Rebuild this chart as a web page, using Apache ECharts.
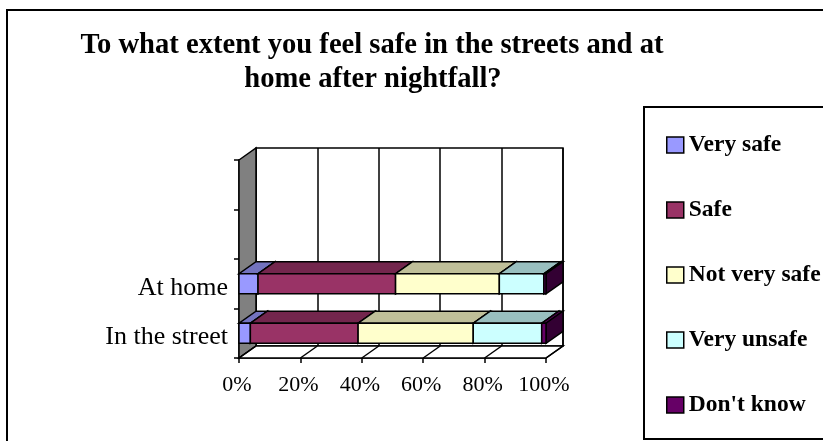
<!DOCTYPE html>
<html><head><meta charset="utf-8">
<script src="https://cdn.jsdelivr.net/npm/echarts@6/dist/echarts.min.js"></script>
<style>html,body{margin:0;padding:0;background:#fff}#c{width:823px;height:441px}</style>
</head><body><div id="c"></div>
<script>
// ---- data ----
const titleLines = ['To what extent you feel safe in the streets and at', 'home after nightfall?'];
const categories = ['In the street', 'At home', '', ''];
const seriesNames = ['Very safe', 'Safe', 'Not very safe', 'Very unsafe', "Don't know"];
const verySafe    = [3.7, 6.2];
const safe        = [35.1, 44.8];
const notVerySafe = [37.5, 33.8];
const veryUnsafe  = [22.3, 14.5];
const dontKnow    = [1.4, 0.7];
const xTicks = [0, 20, 40, 60, 80, 100];

// ---- styling ----
const palette = ['#9999FF', '#993366', '#FFFFCC', '#CCFFFF', '#660066'];
const DX = 17, DY = -12;
const LW = 1.5;
const serif = '"Liberation Serif", "Times New Roman", serif';

function shade(hex, f) {
  const n = parseInt(hex.slice(1), 16);
  const r = Math.round(((n >> 16) & 255) * f), g = Math.round(((n >> 8) & 255) * f), b = Math.round((n & 255) * f);
  return 'rgb(' + r + ',' + g + ',' + b + ')';
}

function renderBar(params, api) {
  const ci = api.value(0), a = api.value(1), b = api.value(2);
  const pa = api.coord([a, ci]), pb = api.coord([b, ci]);
  const band = api.size([0, 1])[1];
  const h = band * 0.404;
  const yt = pa[1] - h / 2, yb = pa[1] + h / 2;
  const xa = pa[0], xb = pb[0];
  const c = api.visual('color');
  const ln = { stroke: '#000', lineWidth: LW, lineJoin: 'miter' };
  return { type: 'group', children: [
    { type: 'polygon', shape: { points: [[xa, yt], [xb, yt], [xb + DX, yt + DY], [xa + DX, yt + DY]] }, style: Object.assign({ fill: shade(c, 0.75) }, ln) },
    { type: 'polygon', shape: { points: [[xb, yt], [xb + DX, yt + DY], [xb + DX, yb + DY], [xb, yb]] }, style: Object.assign({ fill: shade(c, 0.5) }, ln) },
    { type: 'rect', shape: { x: xa, y: yt, width: xb - xa, height: yb - yt }, style: Object.assign({ fill: c }, ln) }
  ]};
}

function renderWall(params, api) {
  const band = api.size([0, 1])[1];
  const top = api.coord([0, categories.length - 1])[1] - band / 2;
  const bot = api.coord([0, 0])[1] + band / 2;
  const x0 = api.coord([xTicks[0], 0])[0];
  const x1 = api.coord([xTicks[xTicks.length - 1], 0])[0];
  const ln = { stroke: '#000', lineWidth: LW };
  return { type: 'group', children: [
    { type: 'polygon', shape: { points: [[x0, top], [x0 + DX, top + DY], [x0 + DX, bot + DY], [x0, bot]] }, style: Object.assign({ fill: '#808080' }, ln) },
    { type: 'polygon', shape: { points: [[x0, bot], [x1, bot], [x1 + DX, bot + DY], [x0 + DX, bot + DY]] }, style: Object.assign({ fill: '#fff' }, ln) }
  ]};
}

function renderFloorLine(params, api) {
  const band = api.size([0, 1])[1];
  const p = api.coord([api.value(0), 0]);
  const bot = p[1] + band / 2;
  return { type: 'line', shape: { x1: p[0], y1: bot, x2: p[0] + DX, y2: bot + DY }, style: { stroke: '#000', lineWidth: LW } };
}

const valueArrays = [verySafe, safe, notVerySafe, veryUnsafe, dontKnow];
const acc = categories.map(() => 0);
const barSeries = valueArrays.map((arr, i) => {
  const data = arr.map((v, ci) => { const s = acc[ci]; acc[ci] += v; return [ci, s, s + v]; });
  return {
    type: 'custom', name: seriesNames[i], xAxisIndex: 0, yAxisIndex: 0,
    itemStyle: { color: palette[i] }, encode: { x: [1, 2], y: 0 },
    data: data, renderItem: renderBar, z: 5, silent: true
  };
});

const chart = echarts.init(document.getElementById('c'), null, { renderer: 'canvas' });
chart.setOption({
  animation: false,
  backgroundColor: '#fff',
  graphic: [
    { type: 'rect', silent: true, shape: { x: 7, y: 10, width: 900, height: 600 }, style: { fill: 'none', stroke: '#000', lineWidth: 2 } },
    { type: 'rect', silent: true, shape: { x: 644, y: 107, width: 300, height: 332 }, style: { fill: 'none', stroke: '#000', lineWidth: 2 } },
    { type: 'text', silent: true, x: 372, y: 46, style: { text: titleLines[0], font: 'bold 28.6px ' + serif, fill: '#000', align: 'center', verticalAlign: 'middle' } },
    { type: 'text', silent: true, x: 373, y: 80, style: { text: titleLines[1], font: 'bold 28.6px ' + serif, fill: '#000', align: 'center', verticalAlign: 'middle' } }
  ],
  legend: {
    orient: 'vertical', left: 661, top: 127,
    itemWidth: 17, itemHeight: 16, itemGap: 39,
    textStyle: { fontFamily: serif, fontWeight: 'bold', fontSize: 23.5, color: '#000', lineHeight: 26 },
    data: seriesNames.map((n) => ({ name: n, icon: 'rect', itemStyle: { borderColor: '#000', borderWidth: 1.5 } }))
  },
  grid: [
    { left: 239, top: 160, width: 307, height: 198 },
    { left: 256, top: 148, width: 307, height: 198, show: true, backgroundColor: '#fff', borderColor: '#000', borderWidth: LW }
  ],
  xAxis: [
    { type: 'value', gridIndex: 0, min: 0, max: 100, interval: 20,
      axisLine: { show: true, lineStyle: { color: '#000', width: LW } },
      axisTick: { show: true, length: 5, lineStyle: { color: '#000', width: LW } },
      splitLine: { show: false },
      axisLabel: { formatter: '{value}%', color: '#000', fontFamily: serif, fontSize: 22, margin: 16, padding: [0, 4, 0, 0] } },
    { type: 'value', gridIndex: 1, min: 0, max: 100, interval: 20,
      axisLine: { show: false }, axisTick: { show: false }, axisLabel: { show: false },
      splitLine: { show: true, lineStyle: { color: '#000', width: LW } } }
  ],
  yAxis: [
    { type: 'category', gridIndex: 0, data: categories,
      axisLine: { show: true, lineStyle: { color: '#000', width: LW } },
      axisTick: { show: true, length: 5, lineStyle: { color: '#000', width: LW } },
      axisLabel: { color: '#000', fontFamily: serif, fontSize: 26, margin: 11, verticalAlign: 'top', lineHeight: 8 } },
    { type: 'category', gridIndex: 1, data: categories, show: false }
  ],
  series: [
    { type: 'custom', name: 'walls', xAxisIndex: 0, yAxisIndex: 0, data: [[0, 0]], renderItem: renderWall, z: 2, silent: true },
    { type: 'custom', name: 'floorLines', xAxisIndex: 0, yAxisIndex: 0, data: xTicks.map((t) => [t, 0]), renderItem: renderFloorLine, z: 3, silent: true }
  ].concat(barSeries)
});
</script></body></html>
